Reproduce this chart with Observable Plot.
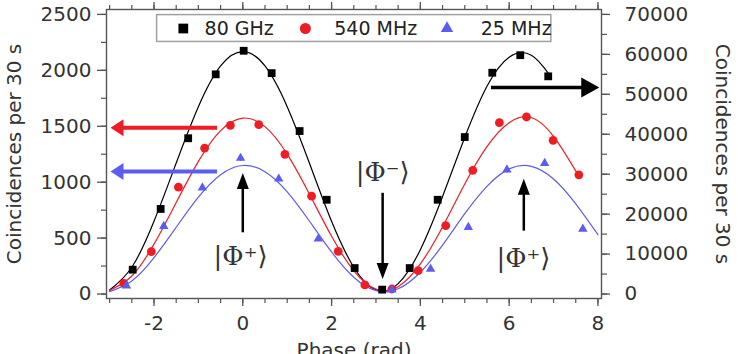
<!DOCTYPE html>
<html>
<head>
<meta charset="utf-8">
<script src="https://cdn.jsdelivr.net/npm/d3@7"></script>
<script src="https://cdn.jsdelivr.net/npm/@observablehq/plot@0.6"></script>
<style>
  body { margin: 0; background: #fff; }
</style>
</head>
<body>
<div id="chart"></div>
<script>
// ---- Measured coincidences vs. phase (rad) ----
// 80 GHz series is read against the right-hand axis
const phase80G  = [-2.48, -1.85, -1.23, -0.61, 0.02, 0.65, 1.28, 1.89, 2.52, 3.14, 3.76, 4.39, 5.00, 5.62, 6.25, 6.88];
const counts80G = [6100, 21300, 39000, 55000, 60900, 55300, 40800, 23600, 6500, 1100, 6500, 23600, 39300, 55400, 59800, 54500];

// 540 MHz and 25 MHz series use the left-hand axis
const phase540M  = [-2.68, -2.06, -1.45, -0.86, -0.28, 0.36, 0.95, 1.55, 2.15, 2.75, 3.36, 3.95, 4.57, 5.18, 5.78, 6.39, 6.99, 7.57];
const counts540M = [95, 379, 955, 1305, 1508, 1514, 1248, 875, 382, 81, 45, 209, 612, 1105, 1532, 1583, 1374, 1066];
const err540M    = [10, 15, 20, 25, 28, 28, 25, 20, 15, 8, 8, 12, 20, 25, 30, 32, 28, 25];

const phase25M  = [-2.62, -1.78, -0.91, -0.05, 0.81, 1.70, 3.36, 4.23, 5.08, 5.95, 6.80, 7.66];
const counts25M = [74, 606, 950, 1215, 1030, 493, 39, 224, 597, 1111, 1170, 582];
const err25M    = [8, 15, 22, 30, 25, 15, 6, 12, 18, 28, 30, 20];

// ---- Fitted fringes ----
const fitPhase80G = [-3, -2.5, -2, -1.5, -1, -0.5, 0, 0.5, 1, 1.5, 2, 2.5, 3, 3.5, 4, 4.5, 5, 5.5, 6, 6.5, 6.9];
const fit80G      = [1000, 6700, 18200, 32800, 46900, 57100, 60700, 57100, 46900, 32800, 18200, 6700, 1000, 2600, 11100, 24400, 39200, 52000, 59300, 59800, 55000];

const fitPhase540M = [-3, -2.5, -2, -1.5, -1, -0.5, 0, 0.5, 1, 1.5, 2, 2.5, 3, 3.5, 4, 4.5, 5, 5.5, 6, 6.5, 7, 7.57];
const fit540M      = [33, 161, 446, 818, 1186, 1461, 1573, 1497, 1251, 895, 516, 208, 44, 66, 269, 600, 984, 1318, 1532, 1578, 1409, 1054];

const fitPhase25M = [-3, -2.5, -2, -1.5, -1, -0.5, 0, 0.5, 1, 1.5, 2, 2.5, 3, 3.5, 4, 4.5, 5, 5.5, 6, 6.5, 7, 7.5, 8];
const fit25M      = [22, 116, 325, 597, 866, 1067, 1149, 1094, 914, 653, 376, 150, 30, 47, 195, 437, 718, 963, 1119, 1142, 1029, 807, 531];

// ---- Axes ----
const xMajor = [-2, 0, 2, 4, 6, 8];
const xMinor = d3.range(-3, 8.01, 0.5);
const yLeftMajor = [0, 500, 1000, 1500, 2000, 2500];
const yLeftMinor = d3.range(0, 2501, 250);
const yRightMajor = [0, 10000, 20000, 30000, 40000, 50000, 60000, 70000];
const yRightMinor = d3.range(0, 70001, 5000);
const RIGHT_PER_LEFT = 70000 / 2500; // right axis spans the same height as the left

const seriesNames = ["80 GHz", "540 MHz", "25 MHz"];
const stateLabels = ["|\u03A6\u207A\u27E9", "|\u03A6\u207B\u27E9", "|\u03A6\u207A\u27E9"];

// ---- Layout & style ----
const W = 738, H = 354;
const M = {top: 9, right: 137, bottom: 56, left: 106};
const X_DOMAIN = [-3.07, 8.08];
const Y_DOMAIN = [-40, 2544];
const xPerPx = (X_DOMAIN[1] - X_DOMAIN[0]) / (W - M.left - M.right);
const yPerPx = (Y_DOMAIN[1] - Y_DOMAIN[0]) / (H - M.top - M.bottom);

const BLACK = "#000000";
const RED = "#ee1d23";
const BLUE = "#5c5cf2";
const AXIS = "#555555";
const TEXT = "#333333";

const pts80G = phase80G.map((x, i) => ({x, y: counts80G[i] / RIGHT_PER_LEFT}));
const pts540M = phase540M.map((x, i) => ({x, y: counts540M[i], e: err540M[i]}));
const pts25M = phase25M.map((x, i) => ({x, y: counts25M[i], e: err25M[i]}));
const line80G = fitPhase80G.map((x, i) => ({x, y: fit80G[i] / RIGHT_PER_LEFT}));
const line540M = fitPhase540M.map((x, i) => ({x, y: fit540M[i]}));
const line25M = fitPhase25M.map((x, i) => ({x, y: fit25M[i]}));

// Annotation arrows (data coordinates; x2/y2 is the tip)
const arrows = [
  {x1: -0.58, y1: 1487, x2: -2.98, y2: 1487, dir: "left", color: RED, width: 4, len: 13, half: 8.5},
  {x1: -0.58, y1: 1096, x2: -2.98, y2: 1096, dir: "left", color: BLUE, width: 4, len: 13, half: 8.5},
  {x1: 5.59, y1: 51700 / RIGHT_PER_LEFT, x2: 8.03, y2: 51700 / RIGHT_PER_LEFT, dir: "right", color: BLACK, width: 3.5, len: 18, half: 10},
  {x1: 0, y1: 552, x2: 0, y2: 1083, dir: "up", color: BLACK, width: 2.5, len: 16, half: 6},
  {x1: 3.15, y1: 905, x2: 3.15, y2: 134, dir: "down", color: BLACK, width: 2.5, len: 16, half: 6},
  {x1: 6.33, y1: 567, x2: 6.33, y2: 1030, dir: "up", color: BLACK, width: 2.5, len: 16, half: 6}
];

const stateText = [
  {x: -0.05, y: 335, text: stateLabels[0]},
  {x: 3.15, y: 1087, text: stateLabels[1]},
  {x: 6.32, y: 314, text: stateLabels[2]}
];

const legendBox = {x1: -1.93, x2: 6.95, y1: 2254, y2: 2494};
const legendY = 2374;
const legendItems = [
  {mx: -1.34, tx: -0.86, name: seriesNames[0], symbol: "square", color: BLACK, r: 5.5},
  {mx: 1.41, tx: 2.06, name: seriesNames[1], symbol: "circle", color: RED, r: 5.5},
  {mx: 4.60, tx: 5.36, name: seriesNames[2], symbol: "triangle", color: BLUE, r: 4.6}
];

// Filled arrow head with its tip at the origin
function headSymbol(dir, len, half) {
  return {
    draw(ctx) {
      ctx.moveTo(0, 0);
      if (dir === "left") { ctx.lineTo(len, -half); ctx.lineTo(len, half); }
      else if (dir === "right") { ctx.lineTo(-len, -half); ctx.lineTo(-len, half); }
      else if (dir === "up") { ctx.lineTo(-half, len); ctx.lineTo(half, len); }
      else { ctx.lineTo(-half, -len); ctx.lineTo(half, -len); }
      ctx.closePath();
    }
  };
}

function arrowMarks(a) {
  const back = a.len - 1;
  let bx = a.x2, by = a.y2;
  if (a.dir === "left") bx = a.x2 + back * xPerPx;
  if (a.dir === "right") bx = a.x2 - back * xPerPx;
  if (a.dir === "up") by = a.y2 - back * yPerPx;
  if (a.dir === "down") by = a.y2 + back * yPerPx;
  return [
    Plot.link([a], {x1: "x1", y1: "y1", x2: () => bx, y2: () => by, stroke: a.color, strokeWidth: a.width}),
    Plot.dot([a], {x: "x2", y: "y2", symbol: headSymbol(a.dir, a.len, a.half), fill: a.color, stroke: "none", r: 4})
  ];
}

const fmt = d3.format("d");

const chart = Plot.plot({
  width: W,
  height: H,
  marginTop: M.top,
  marginRight: M.right,
  marginBottom: M.bottom,
  marginLeft: M.left,
  x: {domain: X_DOMAIN},
  y: {domain: Y_DOMAIN},
  style: {fontFamily: "'DejaVu Sans', sans-serif", fontSize: "20px", color: TEXT, background: "white", overflow: "visible"},
  marks: [
    // axes
    Plot.axisX(xMinor, {tickSize: 5, tickFormat: () => "", label: null, stroke: AXIS, strokeWidth: 1.2}),
    Plot.axisX(xMajor, {tickSize: 8, tickPadding: 9, tickFormat: d => String(d), label: null, stroke: AXIS, strokeWidth: 1.3, fill: TEXT}),
    Plot.axisX(xMinor, {anchor: "top", tickSize: 5, tickFormat: () => "", label: null, stroke: AXIS, strokeWidth: 1.2}),
    Plot.axisX(xMajor, {anchor: "top", tickSize: 8, tickFormat: () => "", label: null, stroke: AXIS, strokeWidth: 1.3}),
    Plot.axisY(yLeftMinor, {tickSize: 5, tickFormat: () => "", label: null, stroke: AXIS, strokeWidth: 1.2}),
    Plot.axisY(yLeftMajor, {tickSize: 9, tickPadding: 6, tickFormat: fmt, label: null, stroke: AXIS, strokeWidth: 1.3, fill: TEXT}),
    Plot.axisY(yRightMinor.map(v => v / RIGHT_PER_LEFT), {anchor: "right", tickSize: 5, tickFormat: () => "", label: null, stroke: AXIS, strokeWidth: 1.2}),
    Plot.axisY(yRightMajor.map(v => v / RIGHT_PER_LEFT), {anchor: "right", tickSize: 8, tickPadding: 15, tickFormat: v => fmt(Math.round(v * RIGHT_PER_LEFT)), label: null, stroke: AXIS, strokeWidth: 1.3, fill: TEXT}),
    Plot.frame({stroke: AXIS, strokeWidth: 1.4}),

    // axis titles
    Plot.text(["Coincidences per 30 s"], {frameAnchor: "left", textAnchor: "middle", dx: -92, rotate: -90, fill: TEXT, fontSize: 20}),
    Plot.text(["Coincidences per 30 s"], {frameAnchor: "right", textAnchor: "middle", dx: 121, rotate: 90, fill: TEXT, fontSize: 20}),
    Plot.text(["Phase (rad)"], {frameAnchor: "bottom", textAnchor: "middle", dy: 44, lineAnchor: "top", fill: TEXT, fontSize: 20}),

    // legend
    Plot.rect([legendBox], {x1: "x1", x2: "x2", y1: "y1", y2: "y2", fill: "white", stroke: "#a0a0a0", strokeWidth: 1.5}),
    ...legendItems.map(d => Plot.dot([d], {x: "mx", y: () => legendY, symbol: d.symbol, fill: d.color, stroke: "none", r: d.r})),
    Plot.text(legendItems, {x: "tx", y: () => legendY, text: "name", textAnchor: "start", fill: "#222", fontSize: 19}),

    // fitted curves
    Plot.line(line80G, {x: "x", y: "y", curve: "natural", stroke: BLACK, strokeWidth: 1.2}),
    Plot.line(line540M, {x: "x", y: "y", curve: "natural", stroke: RED, strokeWidth: 1.2}),
    Plot.line(line25M, {x: "x", y: "y", curve: "natural", stroke: BLUE, strokeWidth: 1.2}),

    // error bars and data points
    Plot.ruleX(pts540M, {x: "x", y1: d => d.y - d.e, y2: d => d.y + d.e, stroke: RED, strokeWidth: 1.3}),
    Plot.ruleX(pts25M, {x: "x", y1: d => d.y - d.e, y2: d => d.y + d.e, stroke: BLUE, strokeWidth: 1.3}),
    Plot.dot(pts80G, {x: "x", y: "y", symbol: "square", fill: BLACK, stroke: "none", r: 4.4}),
    Plot.dot(pts540M, {x: "x", y: "y", symbol: "circle", fill: RED, stroke: "none", r: 4.4}),
    Plot.dot(pts25M, {x: "x", y: "y", symbol: "triangle", fill: BLUE, stroke: "none", r: 3.5}),

    // annotations
    ...arrows.flatMap(arrowMarks),
    Plot.text(stateText, {x: "x", y: "y", text: "text", fontFamily: "'DejaVu Serif', serif", fontSize: 26, fill: TEXT})
  ]
});

document.getElementById("chart").append(chart);
</script>
</body>
</html>
